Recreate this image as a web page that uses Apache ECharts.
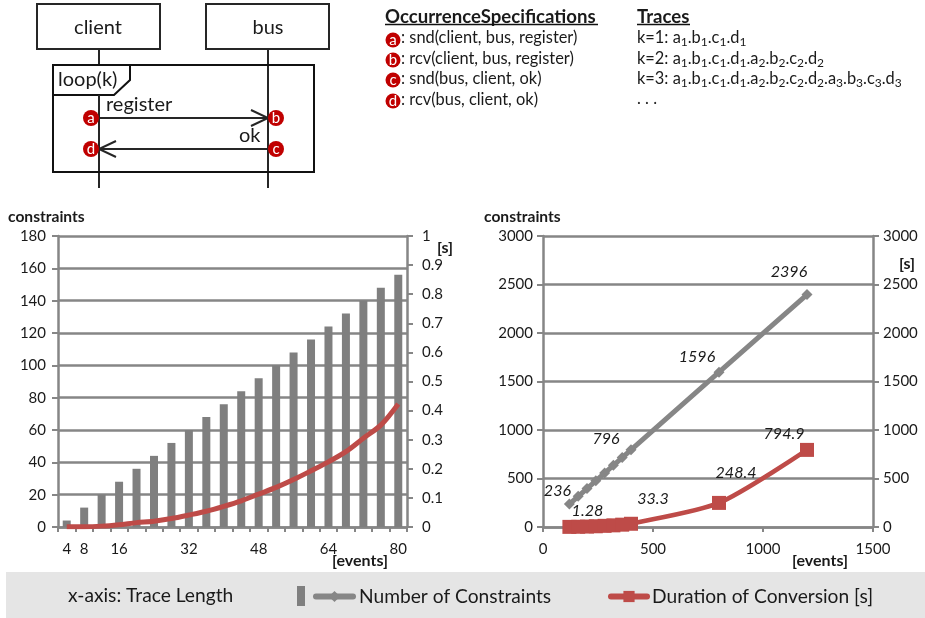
<!DOCTYPE html>
<html>
<head>
<meta charset="utf-8">
<style>
  html, body { margin: 0; padding: 0; background: #fff; }
  #main { width: 925px; height: 618px; }
</style>
<script src="https://cdn.jsdelivr.net/npm/echarts@6/dist/echarts.min.js"></script>
</head>
<body>
<div id="main"></div>
<script>
// left chart
var traceLengths = ['4','8','12','16','20','24','28','32','36','40','44','48','52','56','60','64','68','72','76','80'];
var shownLengths = ['4','8','16','32','48','64','80'];
var constraintsSmall = [4,12,20,28,36,44,52,60,68,76,84,92,100,108,116,124,132,140,148,156];
var durationSmall = [0.001,0.001,0.003,0.008,0.015,0.02,0.029,0.041,0.054,0.071,0.09,0.113,0.136,0.163,0.193,0.224,0.259,0.305,0.35,0.423];

// right chart
var traceLengthsLarge = [120,160,200,240,280,320,360,400,800,1200];
var constraintsLarge = [236,316,396,476,556,636,716,796,1596,2396];
var durationLarge = [1.28,2.5,4.5,7.5,12,17,24,33.3,248.4,794.9];

var constraintsName = 'Number of Constraints';
var durationName = 'Duration of Conversion [s]';

var font = 'Lato';
var textColor = '#1a1a1a';
var gridColor = '#868686';
var grey = '#7f7f7f';
var red = '#be4b48';
var dark = '#262626';

function text(x, y, str, size, extra) {
  var style = { x: x, y: y, text: str, fontFamily: font, fontSize: size, fill: textColor, verticalAlign: 'middle' };
  for (var k in extra) style[k] = extra[k];
  return { type: 'text', silent: true, style: style };
}
function line(x1, y1, x2, y2, w, color) {
  return { type: 'line', silent: true, shape: { x1: x1, y1: y1, x2: x2, y2: y2 }, style: { stroke: color || dark, lineWidth: w || 2 } };
}
function box(x, y, w, h, fill) {
  return { type: 'rect', silent: true, shape: { x: x, y: y, width: w, height: h }, style: { fill: fill || '#fff', stroke: dark, lineWidth: 2 } };
}
function badge(x, y, letter, r) {
  return { type: 'circle', silent: true, shape: { cx: x, cy: y, r: r }, style: { fill: '#c00000' },
    textContent: { style: { text: letter, fontFamily: font, fontSize: 15, fill: '#fff' } },
    textConfig: { position: 'inside' } };
}
function arrow(points) {
  return { type: 'polyline', silent: true, shape: { points: points }, style: { fill: 'none', stroke: dark, lineWidth: 2 } };
}
// a1.b1 style traces, the digit is a lowered rich text token
function trace(x, y, k, count) {
  var s = 'k=' + k + ': ';
  for (var i = 1; i <= count; i++) {
    ['a','b','c','d'].forEach(function (ch, j) {
      s += ((i > 1 || j > 0) ? '.' : '') + ch + '{sub|' + i + '}';
    });
  }
  return text(x, y, s, 16.4, { rich: { sub: { fontFamily: font, fontSize: 12, fill: textColor, padding: [8, 0, 0, 0] } } });
}

var diagram = [
  line(99, 49, 99, 188), line(268, 49, 268, 188),
  box(37, 4, 123, 45), box(206, 4, 123, 45),
  text(98, 28, 'client', 20, { align: 'center' }),
  text(268, 28, 'bus', 20, { align: 'center' }),
  { type: 'rect', silent: true, shape: { x: 53, y: 65, width: 261, height: 107 }, style: { fill: 'none', stroke: '#111', lineWidth: 2 } },
  { type: 'polygon', silent: true, shape: { points: [[53,65],[130,65],[130,80],[114,95],[53,95]] }, style: { fill: '#fff', stroke: '#111', lineWidth: 2 } },
  line(99, 95, 99, 118),
  text(58, 80, 'loop(k)', 20),
  text(106, 105, 'register', 20),
  text(239, 136, 'ok', 20),
  line(99, 118, 268, 118), arrow([[251,110],[268,118],[251,126]]),
  line(99, 149, 268, 149), arrow([[116,141],[99,149],[116,157]]),
  badge(91, 118, 'a', 8), badge(276, 118, 'b', 8), badge(91, 149, 'd', 8), badge(276, 149, 'c', 8),

  text(385, 17, 'OccurrenceSpecifications', 18.6, { fontWeight: 'bold' }),
  line(385, 24.5, 598, 24.5, 1.5, '#111'),
  badge(393, 40, 'a', 7.5), text(401, 38, ': snd(client, bus, register)', 16.4),
  badge(393, 60, 'b', 7.5), text(401, 59, ': rcv(client, bus, register)', 16.4),
  badge(393, 80, 'c', 7.5), text(401, 79, ': snd(bus, client, ok)', 16.4),
  badge(393, 101, 'd', 7.5), text(401, 100, ': rcv(bus, client, ok)', 16.4),

  text(637, 17, 'Traces', 18.6, { fontWeight: 'bold' }),
  line(637, 24.5, 690, 24.5, 1.5, '#111'),
  trace(637, 38, 1, 1),
  trace(637, 59, 2, 2),
  trace(637, 79, 3, 3),
  text(637, 99, '. . .', 16.4)
];

var axisTexts = [
  text(8, 217, 'constraints', 15.6, { fontWeight: 'bold' }),
  text(437, 248, '[s]', 16, { fontWeight: 'bold' }),
  text(332, 561, '[events]', 16, { fontWeight: 'bold' }),
  text(484, 217, 'constraints', 15.6, { fontWeight: 'bold' }),
  text(899, 264, '[s]', 16, { fontWeight: 'bold' }),
  text(792, 561, '[events]', 16, { fontWeight: 'bold' })
];

var legendBand = [
  { type: 'rect', silent: true, z: -1, shape: { x: 6, y: 572, width: 919, height: 46 }, style: { fill: '#e5e5e5' } },
  text(68, 596, 'x-axis: Trace Length', 19.2),
  { type: 'rect', silent: true, shape: { x: 297, y: 586, width: 8, height: 20 }, style: { fill: grey } }
];

function plainNumber(v) { return String(v); }

function valueAxis(gridIndex, position, max, interval, showSplit, margin) {
  return {
    type: 'value', gridIndex: gridIndex, position: position, min: 0, max: max, interval: interval,
    axisLine: { show: true, lineStyle: { color: gridColor, width: 2.5 } },
    axisTick: { show: true, length: 6, lineStyle: { color: gridColor, width: 2 } },
    axisLabel: { color: textColor, fontFamily: font, fontSize: 15, margin: margin, showMinLabel: true, showMaxLabel: true, formatter: plainNumber },
    splitLine: { show: showSplit, lineStyle: { color: gridColor, width: 2.5 } }
  };
}

function bottomAxisStyle() {
  return {
    axisLine: { show: true, onZero: false, lineStyle: { color: gridColor, width: 2.5 } },
    axisTick: { show: true, length: 5, lineStyle: { color: gridColor, width: 2 } },
    splitLine: { show: false }
  };
}

// data labels sit by hand next to a few points only
function labelled(values, offsets) {
  return values.map(function (v, i) {
    var xy = [traceLengthsLarge[i], v];
    if (!offsets[i]) return { value: xy, label: { show: false } };
    return {
      value: xy,
      label: { show: true, position: 'top', offset: offsets[i], formatter: String(v),
        fontFamily: font, fontStyle: 'italic', fontSize: 16, color: textColor }
    };
  });
}

var option = {
  animation: false,
  textStyle: { fontFamily: font },
  grid: [
    { left: 58, top: 236, width: 349, height: 291 },
    { left: 543, top: 236, width: 330, height: 291 }
  ],
  xAxis: [
    Object.assign(bottomAxisStyle(), {
      type: 'category', gridIndex: 0, data: traceLengths,
      axisLabel: {
        color: textColor, fontFamily: font, fontSize: 15, margin: 15,
        interval: function (i, v) { return shownLengths.indexOf(v) >= 0; }
      },
      axisTick: { show: true, interval: 0, length: 5, lineStyle: { color: gridColor, width: 2 } }
    }),
    Object.assign(bottomAxisStyle(), {
      type: 'value', gridIndex: 1, min: 0, max: 1500, interval: 500,
      axisLabel: { color: textColor, fontFamily: font, fontSize: 15, margin: 15, formatter: plainNumber }
    })
  ],
  yAxis: [
    valueAxis(0, 'left', 180, 20, true, 12),
    valueAxis(0, 'right', 1, 0.1, false, 15),
    valueAxis(1, 'left', 3000, 500, true, 10),
    valueAxis(1, 'right', 3000, 500, false, 10)
  ],
  legend: [
    { left: 308, top: 582, data: [constraintsName], selectedMode: false, itemWidth: 37, itemHeight: 14,
      lineStyle: { width: 6, cap: 'round', color: gridColor },
      textStyle: { fontFamily: font, fontSize: 19.2, color: textColor, padding: [0, 0, 0, 1] } },
    { left: 603, top: 582, data: [durationName], selectedMode: false, itemWidth: 36, itemHeight: 14,
      lineStyle: { width: 6, cap: 'round', color: red },
      textStyle: { fontFamily: font, fontSize: 19.2, color: textColor } }
  ],
  series: [
    { name: 'Constraints', type: 'bar', xAxisIndex: 0, yAxisIndex: 0, data: constraintsSmall, barWidth: 8,
      itemStyle: { color: grey } },
    { name: 'Duration', type: 'line', xAxisIndex: 0, yAxisIndex: 1, data: durationSmall, smooth: 0.3,
      showSymbol: false, lineStyle: { color: red, width: 5 }, itemStyle: { color: red } },
    { name: constraintsName, type: 'line', xAxisIndex: 1, yAxisIndex: 2, symbol: 'diamond', symbolSize: 11,
      data: labelled(constraintsLarge, { 0: [-12, 5], 7: [-25, 8], 8: [-22, 3], 9: [-18, -4] }),
      lineStyle: { color: gridColor, width: 5 }, itemStyle: { color: gridColor } },
    { name: durationName, type: 'line', xAxisIndex: 1, yAxisIndex: 3, symbol: 'rect', symbolSize: 14, smooth: 0.25,
      data: labelled(durationLarge, { 0: [18, 4], 7: [22, -5], 8: [17, -10], 9: [-23, 4] }),
      lineStyle: { color: red, width: 4.5 }, itemStyle: { color: red } }
  ],
  graphic: diagram.concat(axisTexts, legendBand)
};

var chart = echarts.init(document.getElementById('main'));
chart.setOption(option);
</script>
</body>
</html>
